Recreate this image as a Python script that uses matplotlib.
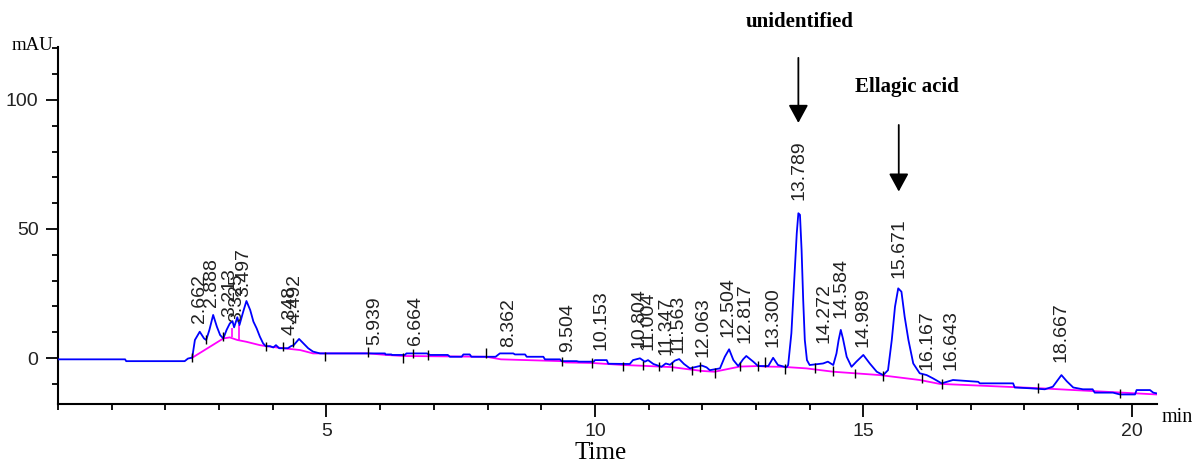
import matplotlib
matplotlib.use('Agg')
import matplotlib.pyplot as plt
from matplotlib.ticker import MultipleLocator, FixedLocator

# chromatogram trace (min, mAU)
trace_t = [0.00, 1.25, 1.27, 2.36, 2.42, 2.50, 2.55, 2.64, 2.72, 2.76, 2.82, 2.89, 2.96, 3.02,
           3.08, 3.14, 3.20, 3.25, 3.28, 3.34, 3.38, 3.45, 3.51, 3.58, 3.64, 3.70, 3.76, 3.82,
           3.87, 3.95, 4.01, 4.06, 4.12, 4.28, 4.34, 4.39, 4.49, 4.57, 4.66, 4.75, 4.88,
           6.09, 6.10, 6.21, 6.22, 6.46, 6.49, 6.87, 6.93, 7.26, 7.30, 7.52, 7.55, 7.67, 7.70,
           8.15, 8.23, 8.48, 8.51, 8.70, 8.73, 9.04, 9.07, 9.35, 9.38, 9.66, 9.70, 9.98, 10.00,
           10.22, 10.25, 10.65, 10.71, 10.84, 10.93, 10.99, 11.09, 11.24, 11.32, 11.40, 11.49,
           11.57, 11.66, 11.77, 11.89, 11.99, 12.08, 12.14, 12.33, 12.42, 12.50, 12.58, 12.67,
           12.76, 12.82, 12.95, 13.04, 13.23, 13.32, 13.41, 13.57, 13.60, 13.66, 13.71, 13.76,
           13.79, 13.82, 13.85, 13.88, 13.91, 13.95, 14.00, 14.25, 14.34, 14.44, 14.50, 14.54,
           14.58, 14.62, 14.69, 14.78, 14.87, 15.00, 15.12, 15.25, 15.37, 15.46, 15.53, 15.59,
           15.65, 15.71, 15.77, 15.84, 15.93, 16.05, 16.18, 16.30, 16.46, 16.61, 16.67, 17.14,
           17.17, 17.79, 17.82, 18.10, 18.38, 18.53, 18.69, 18.79, 18.91, 19.09, 19.27, 19.31,
           19.65, 19.78, 20.06, 20.09, 20.34, 20.40, 20.47]
trace_v = [-0.5, -0.5, -1.2, -1.2, -0.2, 0.2, 7.0, 10.2, 7.6, 7.0, 10.9, 16.7, 12.1, 8.9,
           7.6, 10.9, 13.4, 14.3, 11.9, 15.8, 12.8, 18.0, 22.1, 18.6, 14.1, 11.5, 8.3, 5.7,
           4.6, 4.6, 4.1, 5.0, 3.8, 3.8, 4.6, 5.0, 7.4, 5.7, 3.8, 2.5, 1.8,
           1.8, 1.4, 1.4, 1.2, 1.2, 1.8, 1.8, 1.2, 1.2, 0.5, 0.5, 1.4, 1.4, 0.5,
           0.5, 1.8, 1.8, 1.4, 1.4, 0.5, 0.5, -0.5, -0.5, -1.2, -1.2, -1.4, -1.4, -0.8,
           -0.8, -2.2, -2.3, -0.8, -0.1, -1.4, -0.8, -2.3, -3.4, -2.1, -2.6, -1.0,
           -0.4, -2.3, -4.0, -3.4, -2.9, -3.6, -4.7, -4.0, 0.5, 3.4, -0.8, -3.1,
           -0.5, 0.8, -1.4, -3.1, -3.1, 0.1, -2.7, -3.6, -2.7, 9.6, 29.0, 48.3,
           56.1, 55.5, 41.9, 22.5, 7.0, -0.8, -2.7, -2.1, -1.4, -2.7, 1.8, 7.0,
           10.9, 7.6, 0.5, -3.4, -1.4, 1.2, -2.1, -5.3, -6.6, -4.7, 7.0, 19.9,
           27.0, 25.7, 16.0, 7.0, -2.1, -5.9, -6.6, -7.9, -9.8, -8.9, -8.5, -9.2,
           -9.8, -9.8, -11.4, -11.7, -12.1, -11.1, -6.6, -9.0, -11.4, -12.1, -12.1, -13.4,
           -13.4, -14.1, -14.1, -12.4, -12.4, -13.4, -13.7]

# integration baseline
base_t = [2.49, 3.08, 3.20, 3.34, 3.51, 3.76, 3.88, 4.20, 4.51, 4.75, 5.78, 6.12, 6.43,
          7.98, 8.25, 9.38, 9.45, 9.94, 10.53, 10.90, 11.20, 11.43, 11.80, 12.00, 12.23,
          12.70, 13.04, 13.17, 13.50, 13.94, 14.44, 15.31, 16.05, 16.42, 18.29, 20.46]
base_v = [0.0, 7.6, 8.0, 7.0, 6.3, 5.0, 4.6, 3.8, 3.1, 1.8, 1.8, 1.2, 0.8,
          0.5, -0.5, -1.2, -1.7, -1.9, -2.7, -3.0, -3.3, -3.5, -4.5, -5.0, -5.3,
          -3.3, -3.1, -3.3, -3.4, -4.0, -5.3, -6.6, -8.5, -10.0, -11.7, -14.1]

# drop lines between fused peaks
drop_t = [3.25, 3.38]
drop_lo = [8.0, 7.0]
drop_hi = [11.6, 12.7]

# peak start / end marks
mark_t = [2.49, 2.76, 3.08, 3.87, 4.20, 4.37, 4.97, 5.78, 6.43, 6.62, 6.90, 7.98, 9.38, 9.94,
          10.53, 10.90, 11.19, 11.43, 11.80, 11.96, 12.23, 12.70, 13.04, 13.17, 13.54, 14.10,
          14.44, 14.84, 15.37, 16.10, 16.46, 18.26, 19.78]
mark_v = [0.3, 7.2, 8.3, 4.6, 4.4, 6.0, 0.6, 2.3, 0.0, 1.8, 1.2, 2.0, -1.4, -1.9,
          -3.4, -3.0, -3.3, -3.4, -4.9, -3.5, -5.8, -3.3, -3.1, -1.5, -4.2, -3.8,
          -5.0, -6.0, -7.0, -7.8, -10.0, -11.6, -13.7]

# retention time labels: text, x position, bottom of text
peak_labels = ['2.662', '2.888', '3.213', '3.325', '3.497', '4.348', '4.492', '5.939', '6.664',
               '8.362', '9.504', '10.153', '10.804', '11.004', '11.347', '11.563', '12.063',
               '12.504', '12.817', '13.300', '13.789', '14.272', '14.584', '14.989', '15.671',
               '16.167', '16.643', '18.667']
label_t = [2.64, 2.86, 3.20, 3.33, 3.45, 4.32, 4.41, 5.90, 6.65,
           8.39, 9.50, 10.12, 10.83, 10.99, 11.32, 11.55, 12.02,
           12.48, 12.79, 13.31, 13.80, 14.27, 14.59, 15.00, 15.67,
           16.18, 16.64, 18.69]
label_v = [13.6, 19.9, 16.0, 14.1, 23.8, 8.9, 13.4, 5.0, 5.0,
           4.4, 2.5, 3.1, 3.8, 3.1, 1.2, 1.8, 0.5,
           8.3, 5.7, 4.4, 61.2, 5.7, 15.4, 4.4, 30.9,
           -4.7, -4.7, -1.4]

# arrows pointing at peaks: x, tail, tip
arrow_t = [13.79, 15.66]
arrow_from = [116.3, 90.3]
arrow_to = [91.1, 64.5]

W, H = 1197, 463
fig = plt.figure(figsize=(W / 100, H / 100), dpi=100)
ax = fig.add_axes([58 / W, 1 - 404 / H, (1157 - 58) / W, (404 - 47) / H])

ax.plot(base_t, base_v, color='#ff00ff', lw=1.3, zorder=2)
ax.vlines(drop_t, drop_lo, drop_hi, color='#ff00ff', lw=1.2, zorder=2)
ax.plot(trace_t, trace_v, color='#0000ff', lw=1.3, zorder=3)
ax.vlines(mark_t, [v - 1.8 for v in mark_v], [v + 1.8 for v in mark_v],
          color='black', lw=1.0, zorder=4)

for txt, t, v in zip(peak_labels, label_t, label_v):
    ax.text(t, v, txt, rotation=90, ha='center', va='bottom', fontsize=14,
            family='Liberation Sans', color='#222222', zorder=5)

for t, a, b in zip(arrow_t, arrow_from, arrow_to):
    ax.annotate('', xy=(t, b), xytext=(t, a), annotation_clip=False,
                arrowprops=dict(arrowstyle='-|>,head_length=0.55,head_width=0.3',
                                color='black', lw=1.3, mutation_scale=20,
                                shrinkA=0, shrinkB=0))

ax.set_xlim(0, 20.47)
ax.set_ylim(-17.8, 120.5)
for s in ['top', 'right']:
    ax.spines[s].set_visible(False)
for s in ['left', 'bottom']:
    ax.spines[s].set_linewidth(1.5)

ax.xaxis.set_major_locator(FixedLocator([5, 10, 15, 20]))
ax.xaxis.set_minor_locator(MultipleLocator(1))
ax.yaxis.set_major_locator(FixedLocator([0, 50, 100]))
ax.yaxis.set_minor_locator(MultipleLocator(10))
ax.tick_params(which='major', direction='out', length=9, width=1.3, labelsize=14,
               labelcolor='#222222', pad=5)
ax.tick_params(which='minor', direction='out', length=4, width=1.3)
for lab in ax.get_xticklabels() + ax.get_yticklabels():
    lab.set_family('Liberation Sans')

serif = 'Liberation Serif'
fig.text(12 / W, 1 - 45 / H, 'mAU', family=serif, fontsize=13.5, va='center', ha='left')
fig.text(1162 / W, 1 - 418 / H, 'min', family=serif, fontsize=14.5, va='center', ha='left')
fig.text(601 / W, 1 - 453 / H, 'Time', family=serif, fontsize=18, va='center', ha='center')
fig.text(800 / W, 1 - 22 / H, 'unidentified', family=serif, fontsize=15, weight='bold',
         va='center', ha='center')
fig.text(907 / W, 1 - 87 / H, 'Ellagic acid', family=serif, fontsize=15, weight='bold',
         va='center', ha='center')

fig.savefig('out.png', dpi=100)
